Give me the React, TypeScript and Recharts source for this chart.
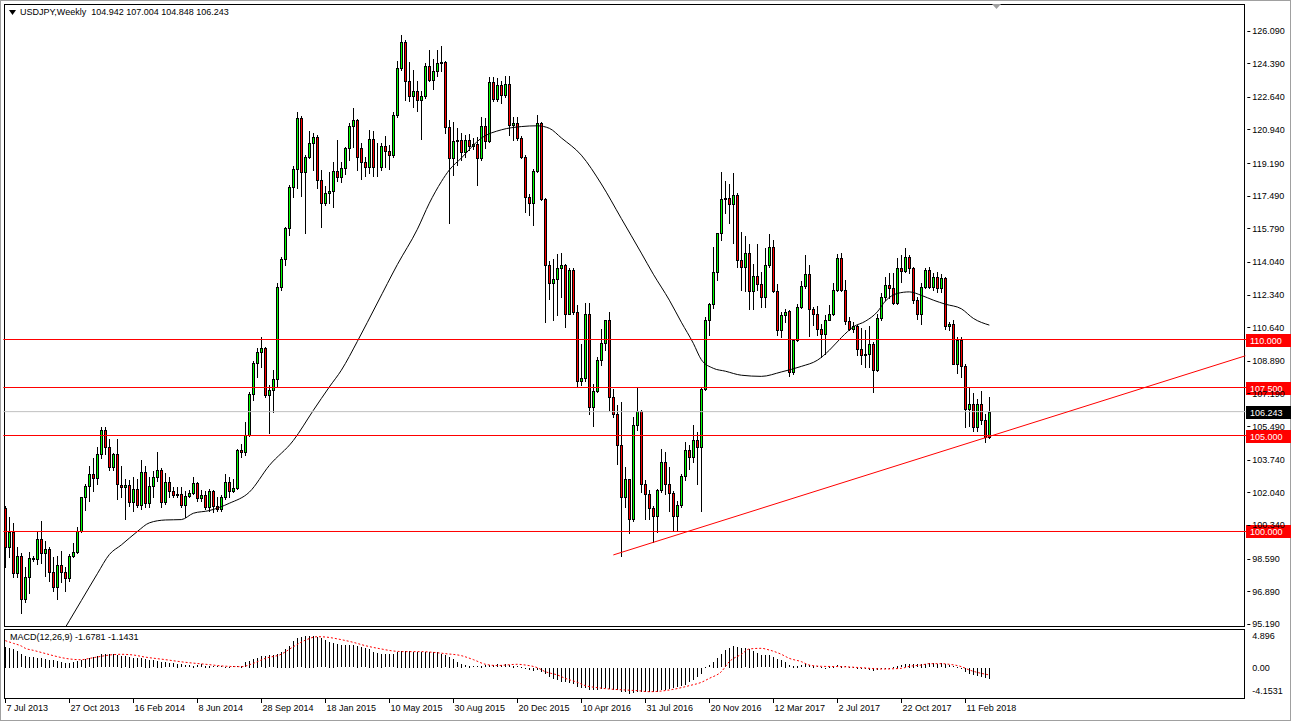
import React from 'react';
import { ComposedChart, Bar, Line, XAxis, YAxis, ReferenceLine } from 'recharts';

const FONT = '"Liberation Sans", Arial, sans-serif';
const W = 1291;
const H = 721;
const SLOTS = 311; // 247 weekly bars + empty space on the right

// weekly USDJPY candles, 7 Jul 2013 .. 25 Mar 2018
const opens = [
  101.23, 99.18, 99.95, 97.82, 98.74, 96.48, 97.61, 98.62, 98.55, 99.61,
  98.87, 99.09, 97.87, 97.09, 98.27, 97.87, 97.56, 98.74, 98.95, 100.01,
  101.79, 102.38, 102.97, 102.8, 104.02, 105.27, 104.4, 103.35, 104.05, 102.43,
  102.3, 102.42, 101.52, 102.22, 101.4, 103.09, 101.47, 102.39, 102.83, 103.21,
  101.52, 102.56, 102.09, 101.92, 101.96, 101.4, 101.87, 101.99, 102.51, 101.75,
  101.92, 101.26, 102.13, 101.35, 101.17, 101.78, 102.56, 102.09, 102.27, 104.22,
  104.13, 105.04, 107.18, 108.8, 109.36, 109.58, 107.09, 107.35, 107.96, 112.71,
  114.17, 115.79, 117.93, 118.87, 121.53, 118.75, 119.53, 120.23, 120.54, 118.31,
  117.1, 117.62, 117.76, 118.8, 118.45, 118.92, 119.96, 121.13, 121.41, 120.0,
  119.22, 118.97, 120.43, 118.97, 119.01, 120.08, 119.84, 119.61, 121.7, 124.14,
  125.51, 123.44, 122.7, 122.92, 122.49, 122.7, 124.26, 123.5, 123.97, 124.4,
  124.45, 121.06, 119.44, 120.36, 120.4, 119.74, 120.4, 120.08, 120.19, 119.44,
  121.13, 120.36, 123.42, 122.52, 123.27, 122.75, 123.32, 121.18, 121.3, 120.48,
  119.53, 117.4, 117.13, 118.8, 121.27, 117.3, 113.87, 112.92, 113.13, 113.75,
  113.88, 111.35, 113.62, 111.44, 107.84, 108.02, 111.32, 106.48, 107.32, 108.95,
  109.82, 111.01, 107.0, 106.13, 104.48, 101.82, 102.74, 100.66, 105.53, 106.27,
  102.48, 101.96, 101.23, 100.83, 102.14, 103.62, 102.48, 102.0, 100.83, 101.4,
  102.87, 104.22, 103.88, 104.75, 104.4, 107.44, 111.04, 111.84, 113.53, 115.53,
  117.31, 117.35, 117.05, 117.53, 114.14, 113.76, 114.49, 112.54, 113.3, 112.9,
  112.23, 113.88, 114.8, 112.54, 110.5, 111.27, 111.5, 108.31, 109.97, 111.71,
  112.78, 113.41, 111.57, 111.32, 110.57, 110.28, 111.04, 111.32, 112.57, 114.23,
  112.57, 110.97, 110.57, 110.7, 109.53, 109.18, 109.23, 109.79, 108.43, 111.13,
  112.22, 112.83, 112.66, 111.91, 113.75, 113.58, 114.31, 113.7, 112.05, 111.35,
  112.74, 113.62, 112.74, 113.23, 112.66, 113.18, 110.69, 110.79, 108.74, 109.99,
  108.6, 106.39, 106.62, 105.44, 106.62, 105.79, 104.942,
];
const highs = [
  101.35, 100.78, 100.43, 99.21, 98.87, 98.14, 98.92, 98.7, 100.05, 100.57,
  99.5, 99.18, 98.66, 98.74, 99.0, 98.14, 98.83, 99.39, 100.22, 101.82,
  102.48, 103.39, 103.84, 104.4, 105.44, 105.44, 104.83, 104.1, 104.83, 103.43,
  102.74, 102.69, 102.83, 102.74, 103.73, 103.43, 102.83, 103.17, 104.13, 103.31,
  103.03, 102.83, 102.34, 102.3, 102.3, 102.09, 102.16, 102.83, 102.56, 102.16,
  102.13, 102.22, 102.16, 101.78, 101.92, 102.99, 102.83, 102.74, 104.3, 104.56,
  105.7, 107.27, 108.89, 109.58, 110.14, 109.62, 107.62, 108.4, 112.96, 114.28,
  115.88, 118.05, 119.05, 121.83, 121.62, 119.62, 120.84, 120.75, 120.66, 118.84,
  117.97, 118.7, 119.27, 120.4, 119.27, 120.05, 121.27, 122.05, 121.48, 120.22,
  119.49, 120.92, 120.88, 120.22, 120.22, 120.61, 120.14, 121.83, 124.49, 125.88,
  125.62, 124.43, 124.05, 123.44, 122.92, 124.4, 125.06, 124.61, 125.1, 125.3,
  124.49, 121.44, 121.35, 121.0, 120.75, 120.66, 120.7, 120.5, 120.57, 121.61,
  121.53, 123.67, 123.67, 123.62, 123.45, 123.7, 123.7, 121.61, 121.61, 120.6,
  119.6, 117.6, 118.87, 121.7, 121.35, 117.35, 114.1, 114.17, 114.45, 114.49,
  113.93, 113.7, 113.7, 111.79, 109.75, 111.88, 111.88, 107.7, 109.09, 110.57,
  111.04, 111.44, 107.44, 106.57, 106.74, 103.35, 102.74, 105.96, 107.49, 106.31,
  102.66, 102.14, 101.35, 102.22, 104.31, 104.14, 103.35, 102.09, 101.61, 103.0,
  104.66, 104.48, 105.53, 105.18, 107.53, 111.18, 111.88, 114.8, 115.53, 118.7,
  118.28, 118.1, 118.66, 117.62, 115.62, 115.39, 114.98, 113.95, 114.95, 113.5,
  114.75, 115.5, 115.2, 112.9, 111.44, 111.6, 111.53, 110.05, 111.85, 113.06,
  114.4, 113.88, 111.71, 111.74, 110.83, 111.27, 111.79, 112.96, 114.45, 114.49,
  113.1, 111.18, 110.9, 110.75, 110.62, 110.5, 110.69, 109.87, 111.35, 112.4,
  113.23, 113.44, 113.44, 114.22, 114.4, 114.75, 114.4, 113.79, 112.22, 112.92,
  113.75, 113.79, 113.44, 113.5, 113.4, 113.27, 110.92, 111.0, 110.14, 110.14,
  108.74, 107.52, 107.2, 106.9, 107.3, 106.1, 107.004,
];
const lows = [
  98.14, 98.66, 97.61, 97.61, 95.73, 96.31, 96.78, 98.45, 98.3, 98.34,
  97.7, 97.44, 96.92, 96.48, 97.35, 96.92, 97.44, 98.66, 98.87, 99.96,
  101.13, 101.61, 102.1, 102.48, 103.84, 104.05, 103.18, 103.18, 101.7, 101.78,
  100.65, 101.35, 101.09, 101.26, 101.17, 101.26, 101.26, 101.78, 102.65, 101.26,
  101.43, 101.78, 101.78, 101.8, 101.26, 100.74, 101.78, 101.96, 101.61, 101.61,
  101.17, 101.09, 100.99, 101.09, 101.09, 101.69, 101.78, 102.04, 102.21, 103.9,
  104.0, 104.95, 106.83, 108.05, 108.57, 107.0, 105.13, 106.22, 107.56, 112.57,
  113.88, 115.44, 117.41, 117.88, 117.48, 115.57, 119.45, 118.84, 117.88, 115.84,
  117.01, 117.1, 116.92, 118.25, 118.22, 118.62, 119.35, 120.05, 118.83, 118.35,
  118.52, 118.66, 118.52, 118.52, 118.83, 118.97, 118.87, 119.53, 121.58, 124.02,
  122.45, 122.4, 122.1, 121.88, 120.43, 122.57, 123.44, 123.04, 123.7, 123.97,
  120.75, 116.08, 118.57, 119.1, 119.35, 119.5, 119.85, 119.9, 118.05, 119.35,
  119.96, 120.3, 122.4, 122.4, 122.3, 122.65, 120.66, 120.4, 120.4, 119.44,
  116.66, 116.48, 115.96, 118.74, 117.25, 110.92, 112.1, 111.01, 111.3, 112.22,
  110.66, 111.32, 111.35, 107.53, 107.61, 107.84, 106.13, 105.47, 107.27, 108.66,
  109.44, 106.31, 105.96, 103.53, 98.74, 101.3, 99.91, 100.57, 105.27, 102.05,
  100.66, 100.66, 99.44, 99.96, 102.05, 101.96, 101.09, 100.05, 100.05, 101.27,
  102.66, 103.27, 103.62, 102.48, 101.09, 107.35, 110.23, 111.62, 113.1, 115.18,
  116.58, 116.05, 115.05, 113.76, 112.58, 112.54, 111.6, 111.57, 112.6, 111.7,
  111.71, 113.8, 112.49, 110.23, 110.14, 110.9, 108.09, 108.2, 109.9, 111.62,
  112.7, 110.17, 110.75, 110.23, 109.1, 109.27, 111.0, 111.27, 112.54, 112.54,
  110.83, 110.49, 110.4, 109.19, 108.74, 108.57, 108.57, 107.26, 108.36, 111.0,
  112.05, 112.14, 111.87, 111.87, 113.0, 113.53, 113.44, 111.91, 111.09, 110.83,
  112.66, 112.66, 112.57, 112.5, 112.5, 110.57, 110.49, 108.7, 108.26, 108.05,
  105.44, 105.52, 105.26, 105.25, 105.6, 104.64, 104.848,
];
const closes = [
  99.18, 99.95, 97.82, 98.74, 96.48, 97.61, 98.62, 98.55, 99.61, 98.87,
  99.09, 97.87, 97.09, 98.27, 97.87, 97.56, 98.74, 98.95, 100.01, 101.79,
  102.38, 102.97, 102.8, 104.02, 105.27, 104.4, 103.35, 104.05, 102.45, 102.3,
  102.42, 101.52, 102.22, 101.4, 103.09, 101.47, 102.39, 102.83, 103.21, 101.52,
  102.56, 102.09, 101.92, 101.96, 101.4, 101.87, 101.99, 102.51, 101.75, 101.92,
  101.26, 102.13, 101.35, 101.17, 101.78, 102.56, 102.09, 102.27, 104.22, 104.13,
  105.04, 107.18, 108.8, 109.36, 109.58, 107.09, 107.35, 107.96, 112.71, 114.17,
  115.79, 117.93, 118.87, 121.53, 118.75, 119.53, 120.23, 120.54, 118.31, 117.1,
  117.62, 117.76, 118.8, 118.45, 118.92, 119.96, 121.13, 121.41, 119.53, 119.22,
  118.97, 120.43, 118.97, 119.01, 120.08, 119.84, 119.61, 121.7, 124.14, 125.51,
  123.44, 122.7, 122.92, 122.49, 122.7, 124.26, 123.5, 123.97, 124.4, 124.45,
  121.06, 119.44, 120.36, 120.4, 119.74, 120.4, 120.08, 120.19, 119.44, 121.13,
  120.36, 123.42, 122.52, 123.27, 122.75, 123.32, 121.18, 121.3, 120.48, 119.53,
  117.4, 117.13, 118.8, 121.27, 117.3, 113.87, 112.92, 113.13, 113.75, 113.88,
  111.35, 113.62, 111.44, 107.84, 108.02, 111.32, 106.48, 107.32, 108.95, 109.82,
  111.01, 107.0, 106.13, 104.48, 101.82, 102.74, 100.66, 105.53, 106.27, 102.48,
  101.96, 101.23, 100.83, 102.14, 103.62, 102.48, 102.0, 100.83, 101.4, 102.87,
  104.22, 103.88, 104.75, 104.4, 107.44, 111.04, 111.84, 113.53, 115.53, 117.31,
  117.35, 117.05, 117.53, 114.14, 113.76, 114.49, 112.54, 113.3, 112.9, 112.23,
  113.88, 114.8, 112.54, 110.5, 111.27, 111.44, 108.31, 109.97, 111.71, 112.78,
  113.41, 111.57, 111.32, 110.57, 110.28, 111.04, 111.32, 112.57, 114.23, 112.57,
  110.97, 110.57, 110.7, 109.53, 109.18, 109.23, 109.79, 108.43, 111.13, 112.22,
  112.83, 112.66, 111.91, 113.75, 113.58, 114.31, 113.7, 112.05, 111.35, 112.74,
  113.62, 112.74, 113.23, 112.66, 113.18, 110.69, 110.79, 108.74, 109.99, 108.6,
  106.39, 106.62, 105.44, 106.62, 105.79, 104.92, 106.243,
];

// MACD(12,26,9) main line, drawn as histogram
const macdHist = [
  3.21, 3.05, 2.85, 2.54, 2.03, 1.82, 1.67, 1.62, 1.51, 1.41,
  1.31, 1.21, 1.1, 1.0, 0.9, 0.74, 0.74, 0.9, 1.0, 1.1,
  1.31, 1.41, 1.62, 1.72, 2.03, 2.03, 2.03, 2.03, 1.92, 1.82,
  1.72, 1.62, 1.51, 1.41, 1.41, 1.31, 1.21, 1.1, 1.0, 0.9,
  0.79, 0.69, 0.69, 0.59, 0.49, 0.38, 0.38, 0.28, 0.38, 0.49,
  0.28, 0.28, 0.18, 0.18, 0.18, 0.08, 0.08, 0.18, 0.18, 0.28,
  0.79, 1.0, 1.31, 1.51, 1.72, 1.82, 1.92, 1.92, 2.13, 2.44,
  2.85, 3.36, 4.08, 4.49, 4.69, 4.85, 4.9, 4.9, 4.69, 4.49,
  4.18, 3.97, 3.77, 3.56, 3.46, 3.46, 3.46, 3.46, 3.36, 3.15,
  2.95, 2.85, 2.44, 2.23, 2.13, 2.03, 2.03, 2.03, 2.44, 2.54,
  2.54, 2.54, 2.44, 2.44, 2.44, 2.44, 2.44, 2.44, 2.33, 2.13,
  1.92, 1.62, 1.31, 0.79, 0.59, 0.38, 0.28, 0.18, 0.18, 0.28,
  0.38, 0.38, 0.38, 0.49, 0.38, 0.49, 0.38, 0.28, 0.18, 0.08,
  -0.03, -0.33, -0.44, -0.33, -0.54, -0.9, -1.41, -1.67, -1.92, -2.08,
  -2.18, -2.28, -2.44, -2.85, -3.0, -3.1, -3.31, -3.36, -3.36, -3.21,
  -3.1, -3.21, -3.31, -3.46, -3.62, -3.72, -3.97, -3.87, -3.72, -3.72,
  -3.72, -3.72, -3.72, -3.62, -3.46, -3.31, -3.21, -3.1, -2.95, -2.79,
  -2.59, -2.18, -1.77, -1.46, -0.95, 0.08, 0.38, 0.9, 1.51, 2.03,
  2.64, 3.05, 3.36, 3.21, 3.05, 2.95, 2.85, 2.54, 2.23, 1.92,
  1.92, 1.92, 1.62, 1.31, 1.1, 0.9, 0.38, 0.28, 0.28, 0.38,
  0.49, 0.38, 0.28, 0.18, 0.08, -0.03, 0.08, 0.28, 0.38, 0.28,
  0.18, 0.08, 0.08, -0.03, -0.13, -0.23, -0.33, -0.44, -0.33, -0.23,
  -0.13, -0.03, 0.08, 0.28, 0.38, 0.49, 0.59, 0.59, 0.49, 0.59,
  0.59, 0.69, 0.69, 0.59, 0.69, 0.59, 0.38, 0.18, 0.08, -0.13,
  -0.64, -0.95, -1.15, -1.26, -1.41, -1.56, -1.68,
];

// MACD signal line, read at these bars
const sigBars = [
  0, 2, 4, 5, 7, 10, 12, 15, 19, 21, 24, 26, 29, 32, 35, 40, 45, 50, 55, 59,
  62, 65, 69, 72, 75, 78, 80, 84, 87, 90, 94, 97, 100, 104, 107, 110, 114, 117, 120, 123,
  125, 128, 130, 133, 135, 138, 140, 143, 145, 148, 151, 155, 158, 161, 164, 166, 169, 171, 174, 176,
  179, 181, 184, 186, 189, 191, 194, 196, 199, 201, 204, 209, 214, 219, 224, 226, 229, 231, 234, 236,
  239, 241, 244, 246,
];
const sigValues = [
  4.13, 3.72, 3.3, 2.95, 2.64, 2.15, 1.82, 1.41, 1.2, 1.4, 1.72, 1.92, 2.03, 1.92, 1.6, 1.21, 0.8, 0.5, 0.2, 0.13,
  0.64, 1.41, 2.05, 3.2, 4.2, 4.74, 4.69, 4.28, 3.87, 3.36, 2.85, 2.54, 2.44, 2.44, 2.33, 2.13, 1.82, 1.21, 0.5, 0.3,
  0.38, 0.49, 0.38, -0.03, -0.64, -1.15, -1.67, -2.28, -2.79, -3.1, -3.31, -3.46, -3.56, -3.72, -3.62, -3.46, -3.1, -2.79, -2.28, -1.67,
  -0.64, 0.9, 2.03, 2.85, 2.95, 2.69, 2.03, 1.41, 0.9, 0.38, 0.18, 0.13, -0.03, -0.23, -0.13, 0.18, 0.38, 0.59, 0.59, 0.49,
  0.13, -0.38, -0.9, -1.14,
];

// moving average, read at these bars
const maBars = [
  13, 15, 16, 19, 23, 26, 29, 33, 36, 40, 44, 47, 51, 56, 61, 66, 72, 77, 81, 84, 88,
  93, 98, 103, 106, 109, 111, 114, 119, 124, 129, 133, 136, 139, 144, 149, 154, 159, 162, 166, 169,
  172, 174, 177, 180, 184, 189, 194, 199, 203, 206, 209, 212, 215, 218, 220, 223, 226, 229, 232, 235,
  239, 242, 246,
];
const maValues = [
  94.3, 95.0, 95.35, 96.4, 97.8, 98.8, 99.3, 100.0, 100.45, 100.6, 100.62, 100.95, 101.09, 101.47, 102.05, 103.44, 104.74, 106.31, 107.53, 108.4, 109.9,
  111.9, 113.9, 115.74, 117.1, 118.22, 118.83, 119.45, 120.49, 120.92, 121.09, 121.13, 121.0, 120.5, 119.6, 118.1, 116.3, 114.5, 113.4, 112.05, 110.9,
  109.8, 108.95, 108.5, 108.35, 108.14, 108.08, 108.31, 108.6, 108.92, 109.44, 110.1, 110.66, 110.95, 111.44, 112.0, 112.4, 112.48, 112.3, 112.05, 111.84,
  111.6, 111.1, 110.75,
];

// red trend line under the lows
const trendBars = [152, 310];
const trendValues = [98.78, 109.15];

const dateLabels = [
  '7 Jul 2013', '27 Oct 2013', '16 Feb 2014', '8 Jun 2014', '28 Sep 2014', '18 Jan 2015',
  '10 May 2015', '30 Aug 2015', '20 Dec 2015', '10 Apr 2016', '31 Jul 2016', '20 Nov 2016',
  '12 Mar 2017', '2 Jul 2017', '22 Oct 2017', '11 Feb 2018',
];
const priceTicks = [
  126.09, 124.39, 122.64, 120.94, 119.19, 117.49, 115.79, 114.04, 112.34, 110.64,
  108.89, 107.19, 105.49, 103.74, 102.04, 100.34, 98.59, 96.89, 95.19,
];
const macdTicks = [4.896, 0, -4.1531];
const levels = [110, 107.5, 105, 100];
const lastPrice = 106.243;

const rows = Array.from({ length: SLOTS }, (_, i) => {
  const live = i < opens.length;
  const mi = maBars.indexOf(i);
  const si = sigBars.indexOf(i);
  const ti = trendBars.indexOf(i);
  return {
    i,
    range: live ? [lows[i], highs[i]] : null,
    open: live ? opens[i] : null,
    high: live ? highs[i] : null,
    low: live ? lows[i] : null,
    close: live ? closes[i] : null,
    macd: live ? macdHist[i] : null,
    ma: mi >= 0 ? maValues[mi] : null,
    signal: si >= 0 ? sigValues[si] : null,
    trend: ti >= 0 ? trendValues[ti] : null,
  };
});

function Candle(props: any) {
  const { x, y, width, height, payload } = props;
  if (!payload || payload.open == null) return null;
  const { open, close, high, low } = payload;
  const cx = Math.floor(x + width / 2) + 0.5;
  const k = high > low ? height / (high - low) : 0;
  const yOf = (v: number) => y + (high - v) * k;
  const top = Math.round(yOf(Math.max(open, close)));
  const bot = Math.round(yOf(Math.min(open, close)));
  const up = close >= open;
  return (
    <g>
      <line x1={cx} x2={cx} y1={Math.round(y)} y2={Math.round(y + height) + 1} stroke="#000" strokeWidth={1} />
      <rect
        x={cx - 1}
        y={top + 0.5}
        width={2}
        height={Math.max(bot - top, 0)}
        fill={up ? '#00ff00' : '#ff0000'}
        stroke="#000"
        strokeWidth={1}
      />
    </g>
  );
}

function HistBar(props: any) {
  const { x, y, width, height } = props;
  if (height == null || isNaN(y)) return null;
  const cx = Math.floor(x + width / 2);
  const top = Math.round(Math.min(y, y + height));
  const h = Math.round(Math.abs(height));
  return <rect x={cx} y={top} width={1} height={Math.max(h, 1)} fill="#000" />;
}

function PriceTag(props: any) {
  const { viewBox, text, bg } = props;
  if (!viewBox) return null;
  const x = Math.round(viewBox.x + viewBox.width) - 1;
  const y = Math.round(viewBox.y);
  return (
    <g>
      <rect x={x} y={y - 6} width={45} height={13} fill={bg} />
      <text x={x + 4} y={y + 4} fill="#fff" fontSize={9} fontFamily={FONT}>
        {text}
      </text>
    </g>
  );
}

function PriceTick(props: any) {
  const { x, y, payload } = props;
  return (
    <g>
      <line x1={x - 4} x2={x - 1} y1={Math.round(y) + 0.5} y2={Math.round(y) + 0.5} stroke="#000" />
      <text x={x + 1} y={y + 3.5} fontSize={9} fontFamily={FONT} fill="#000">
        {payload.value.toFixed(3)}
      </text>
    </g>
  );
}

function MacdTick(props: any) {
  const { x, y, payload } = props;
  const v = payload.value;
  const label = v === 0 ? '0.00' : String(v);
  const dy = v < 0 ? -2 : v > 0 ? 1 : 1;
  return (
    <text x={x + 1} y={y + dy + 2} fontSize={9} fontFamily={FONT} fill="#000">
      {label}
    </text>
  );
}

function DateTick(props: any) {
  const { x, payload } = props;
  const i = payload.value;
  if (i >= opens.length || i % 16 !== 0) return null;
  const cx = Math.floor(x) + 0.5;
  return (
    <g>
      <line x1={cx} x2={cx} y1={698} y2={703} stroke="#000" />
      <text x={cx + 1} y={711} fontSize={9} fontFamily={FONT} fill="#000">
        {dateLabels[i / 16]}
      </text>
    </g>
  );
}

const layer: React.CSSProperties = { position: 'absolute', left: 0, top: 0 };

export default function App() {
  return (
    <div style={{ position: 'absolute', left: 0, top: 0, width: W, height: H, background: '#fff', overflow: 'hidden', fontFamily: FONT }}>
      {/* pane frames */}
      <div style={{ position: 'absolute', left: 4, top: 4, width: 1241, height: 623, border: '1px solid #000', boxSizing: 'border-box' }} />
      <div style={{ position: 'absolute', left: 4, top: 629, width: 1241, height: 70, border: '1px solid #000', boxSizing: 'border-box' }} />
      <div style={{ position: 'absolute', left: 0, top: 0, width: W, height: H, border: '1px solid #a0a0a0', boxSizing: 'border-box' }} />

      <div style={layer}>
        <ComposedChart width={W} height={H} data={rows} margin={{ top: 5, right: 3.67, bottom: 94, left: 3.33 }}>
          <XAxis dataKey="i" hide />
          <YAxis
            orientation="right"
            width={40}
            domain={[95.026, 127.422]}
            allowDataOverflow
            ticks={priceTicks}
            interval={0}
            axisLine={false}
            tickLine={false}
            tickSize={0}
            tickMargin={4}
            tick={<PriceTick />}
          />
          <Bar dataKey="range" shape={(p: any) => <Candle {...p} />} isAnimationActive={false} />
          <Line dataKey="ma" type="monotone" stroke="#000" strokeWidth={1} dot={false} connectNulls isAnimationActive={false} />
          <ReferenceLine y={lastPrice} stroke="#c0c0c0" strokeWidth={1} label={(p: any) => <PriceTag {...p} text="106.243" bg="#000" />} />
          {levels.map((v) => (
            <ReferenceLine
              key={v}
              y={v}
              stroke="#ff0000"
              strokeWidth={1}
              label={(p: any) => <PriceTag {...p} text={v.toFixed(3)} bg="#ff0000" />}
            />
          ))}
          <Line dataKey="trend" type="linear" stroke="#ff0000" strokeWidth={1} dot={false} connectNulls isAnimationActive={false} />
        </ComposedChart>
      </div>

      <div style={layer}>
        <ComposedChart width={W} height={H} data={rows} margin={{ top: 630, right: 3.67, bottom: 3, left: 3.33 }}>
          <XAxis dataKey="i" height={20} interval={15} axisLine={false} tickLine={false} tick={<DateTick />} />
          <YAxis
            orientation="right"
            width={40}
            domain={[-4.692, 5.769]}
            allowDataOverflow
            ticks={macdTicks}
            interval={0}
            axisLine={false}
            tickLine={false}
            tickSize={0}
            tickMargin={4}
            tick={<MacdTick />}
          />
          <Bar dataKey="macd" shape={(p: any) => <HistBar {...p} />} isAnimationActive={false} />
          <Line dataKey="signal" type="monotone" stroke="#ff0000" strokeWidth={1} strokeDasharray="2 2" dot={false} connectNulls isAnimationActive={false} />
        </ComposedChart>
      </div>

      {/* titles */}
      <div style={{ position: 'absolute', left: 9, top: 7, fontSize: 9, whiteSpace: 'pre', color: '#000', display: 'flex', alignItems: 'center' }}>
        <svg width={7} height={5} style={{ marginRight: 4 }}>
          <polygon points="0,0 7,0 3.5,5" fill="#000" />
        </svg>
        <span>USDJPY,Weekly  104.942 107.004 104.848 106.243</span>
      </div>
      <div style={{ position: 'absolute', left: 10, top: 632, fontSize: 9, whiteSpace: 'pre', color: '#000' }}>
        MACD(12,26,9) -1.6781 -1.1431
      </div>
      <svg style={{ position: 'absolute', left: 992, top: 4 }} width={9} height={6}>
        <polygon points="0,0 9,0 4.5,5" fill="#a0a0a0" />
      </svg>
    </div>
  );
}
